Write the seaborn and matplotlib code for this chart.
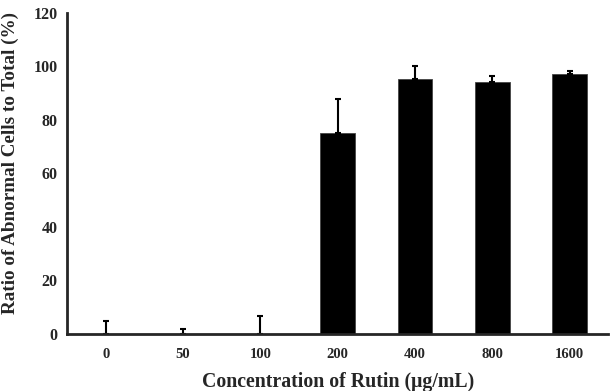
import matplotlib
matplotlib.use("Agg")
import matplotlib.pyplot as plt
import seaborn as sns
import pandas as pd
import numpy as np

# Values
concentrations = ["0", "50", "100", "200", "400", "800", "1600"]
abnormal_ratio = [0, 0, 0, 75, 95.3, 94.2, 97]
std_err = [4.9, 1.8, 6.7, 13, 4.9, 2.4, 1.2]

df = pd.DataFrame({"Concentration": concentrations, "Ratio": abnormal_ratio})

sns.set_style("white")
plt.rcParams["font.family"] = ["Liberation Serif", "DejaVu Serif"]
plt.rcParams["font.weight"] = "bold"

fig = plt.figure(figsize=(6.1, 3.91), dpi=100)
ax = fig.add_axes([0.11, 0.146, 0.887, 0.821])

sns.barplot(data=df, x="Concentration", y="Ratio", color="black",
            width=0.45, ax=ax, errorbar=None, saturation=1,
            edgecolor="#444444", linewidth=0.6)

# upper error bars only
for p, e in zip(ax.patches, std_err):
    ax.errorbar(p.get_x() + p.get_width() / 2, p.get_height(),
                yerr=[[0], [e]], fmt="none", ecolor="black",
                elinewidth=1.5, capsize=2.5, capthick=1.5)

ax.set_xlim(-0.5, 6.5)
ax.set_ylim(0, 120)
ax.set_yticks(range(0, 121, 20))

# ticks between categories on the x axis
ax.set_xticks(np.arange(-0.5, 7, 1), minor=True)
ax.tick_params(axis="x", which="major", length=0, pad=10, labelsize=10.5)
ax.tick_params(axis="x", which="minor", length=4, width=1.5, direction="out")
ax.tick_params(axis="y", length=4, width=1.5, direction="out", labelsize=11.5, pad=3)
for lab in ax.get_xticklabels() + ax.get_yticklabels():
    lab.set_fontweight("bold")

sns.despine(ax=ax)
ax.spines["left"].set_linewidth(2)
ax.spines["bottom"].set_linewidth(2)

ax.set_xlabel("Concentration of Rutin (μg/mL)", fontsize=14.3, fontweight="bold", labelpad=8)
ax.set_ylabel("Ratio of Abnormal Cells to Total (%)", fontsize=13.8, fontweight="bold")
ax.yaxis.set_label_coords(-0.089, 0.533)

fig.savefig("out.png", dpi=100)
